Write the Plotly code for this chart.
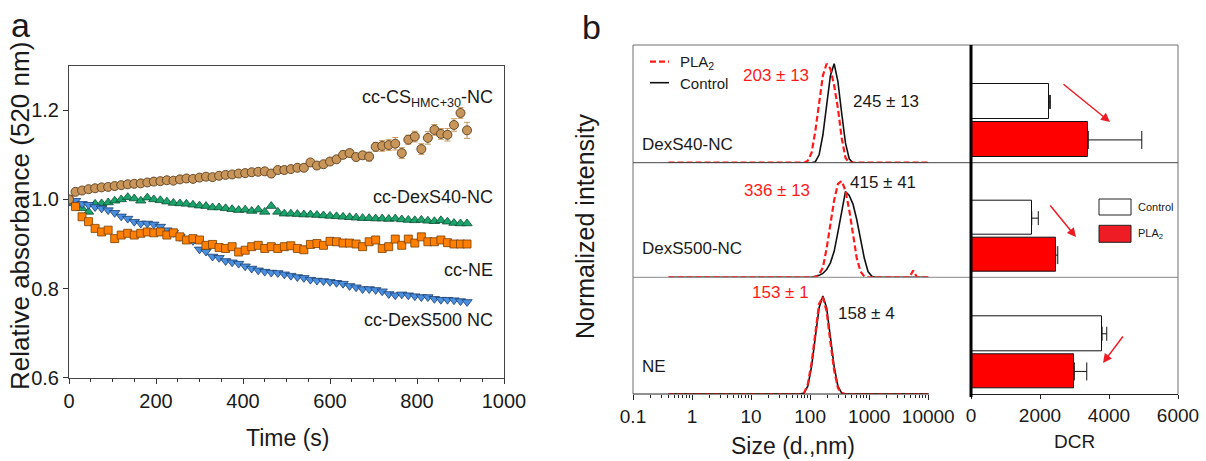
import plotly.graph_objects as go

W, H = 1206, 461
FONT = "Liberation Sans, Arial, sans-serif"

# ---------------- Panel a data ----------------
time_s = [0, 15, 30, 45, 60, 75, 90, 105, 120, 135, 150, 165, 180, 195, 210, 225,
          240, 255, 270, 285, 300, 315, 330, 345, 360, 375, 390, 405, 420, 435,
          450, 465, 480, 495, 510, 525, 540, 555, 570, 585, 600, 615, 630, 645,
          660, 675, 690, 705, 720, 735, 750, 765, 780, 795, 810, 825, 840, 855,
          870, 885, 900, 915]

cs_hmc = [1.000, 1.017, 1.020, 1.023, 1.025, 1.027, 1.028, 1.030, 1.032, 1.034,
          1.035, 1.036, 1.038, 1.040, 1.041, 1.043, 1.042, 1.045, 1.047, 1.046,
          1.049, 1.051, 1.050, 1.053, 1.055, 1.056, 1.058, 1.059, 1.061, 1.062,
          1.063, 1.058, 1.066, 1.066, 1.068, 1.071, 1.071, 1.083, 1.076, 1.079,
          1.085, 1.090, 1.100, 1.104, 1.095, 1.099, 1.096, 1.118, 1.120, 1.122,
          1.125, 1.104, 1.134, 1.141, 1.113, 1.138, 1.156, 1.147, 1.145, 1.167,
          1.194, 1.155]
cs_hmc_err = [0.002, 0.002, 0.002, 0.002, 0.002, 0.002, 0.002, 0.002, 0.002, 0.002,
              0.002, 0.002, 0.002, 0.002, 0.002, 0.002, 0.002, 0.002, 0.002, 0.002,
              0.003, 0.003, 0.003, 0.003, 0.003, 0.003, 0.003, 0.003, 0.003, 0.003,
              0.004, 0.004, 0.004, 0.004, 0.004, 0.004, 0.005, 0.005, 0.005, 0.006,
              0.006, 0.006, 0.008, 0.008, 0.008, 0.008, 0.010, 0.010, 0.012, 0.012,
              0.014, 0.012, 0.010, 0.012, 0.012, 0.014, 0.012, 0.012, 0.014, 0.014,
              0.012, 0.018]

dexs40 = [1.000, 0.991, 0.980, 0.972, 0.990, 0.991, 0.993, 0.997, 1.000, 1.005,
          1.002, 0.997, 1.004, 1.000, 0.998, 0.995, 0.992, 0.991, 0.990, 0.988,
          0.986, 0.985, 0.982, 0.982, 0.980, 0.978, 0.976, 0.977, 0.974, 0.977,
          0.972, 0.985, 0.972, 0.968, 0.968, 0.967, 0.966, 0.966, 0.965, 0.964,
          0.963, 0.962, 0.961, 0.960, 0.959, 0.958, 0.958, 0.957, 0.957, 0.956,
          0.957, 0.955, 0.954, 0.953, 0.954, 0.952, 0.951, 0.953, 0.950, 0.947,
          0.946, 0.946]

ne = [1.000, 0.984, 0.961, 0.950, 0.935, 0.927, 0.931, 0.912, 0.920, 0.924,
      0.920, 0.924, 0.927, 0.925, 0.927, 0.920, 0.925, 0.916, 0.909, 0.912,
      0.909, 0.897, 0.899, 0.892, 0.890, 0.894, 0.882, 0.886, 0.894, 0.897,
      0.890, 0.894, 0.890, 0.894, 0.896, 0.890, 0.887, 0.899, 0.901, 0.897,
      0.906, 0.905, 0.902, 0.902, 0.900, 0.894, 0.905, 0.909, 0.890, 0.894,
      0.911, 0.897, 0.911, 0.902, 0.916, 0.905, 0.905, 0.909, 0.903, 0.900,
      0.900, 0.900]

dexs500 = [0.995, 0.997, 0.990, 0.988, 0.983, 0.980, 0.976, 0.970, 0.962, 0.957,
           0.950, 0.946, 0.946, 0.944, 0.939, 0.931, 0.925, 0.916, 0.910, 0.907,
           0.888, 0.883, 0.872, 0.869, 0.862, 0.859, 0.856, 0.850, 0.845, 0.841,
           0.838, 0.836, 0.835, 0.832, 0.829, 0.826, 0.824, 0.820, 0.818, 0.817,
           0.815, 0.813, 0.811, 0.806, 0.803, 0.799, 0.799, 0.797, 0.794, 0.788,
           0.785, 0.787, 0.785, 0.783, 0.781, 0.781, 0.777, 0.775, 0.775, 0.774,
           0.772, 0.770]

a_xticks = [0, 200, 400, 600, 800, 1000]
a_yticks = [0.6, 0.8, 1.0, 1.2]
a_yticklabels = ["0.6", "0.8", "1.0", "1.2"]

# ---------------- Panel b data ----------------
dls_size = [0.4, 68.06, 78.82, 91.28, 105.7, 122.4, 141.8, 164.2, 190.1, 220.2,
            255.0, 295.3, 342.0, 396.1, 458.7, 531.2, 615.1, 712.4, 825.0, 955.4,
            1106, 1281, 4145, 4801, 5560, 6439, 7456, 10000]

dexs40_control = [0, 0, 0, 0, 0, 0.01, 0.08, 0.28, 0.58, 0.88,
                  1.00, 0.82, 0.50, 0.20, 0.04, 0, 0, 0, 0, 0,
                  0, 0, 0, 0, 0, 0, 0, 0]
dexs40_pla2 = [0, 0, 0, 0.02, 0.10, 0.32, 0.62, 0.88, 1.00, 0.95,
               0.78, 0.55, 0.25, 0.05, 0, 0, 0, 0, 0, 0,
               0, 0, 0, 0, 0, 0, 0, 0]
dexs500_control = [0, 0, 0, 0, 0, 0.01, 0.02, 0.04, 0.08, 0.15,
                   0.27, 0.47, 0.70, 0.89, 0.85, 0.76, 0.60, 0.40, 0.20, 0.06,
                   0.01, 0, 0, 0, 0, 0, 0, 0]
dexs500_pla2 = [0, 0, 0, 0, 0, 0, 0.03, 0.10, 0.30, 0.55,
                0.80, 0.97, 1.00, 0.90, 0.70, 0.45, 0.20, 0.06, 0.01, 0,
                0, 0, 0, 0, 0.07, 0, 0, 0]
ne_control = [0, 0, 0.01, 0.08, 0.28, 0.58, 0.88, 1.00, 0.88, 0.58,
              0.28, 0.08, 0.01, 0, 0, 0, 0, 0, 0, 0,
              0, 0, 0, 0, 0, 0, 0, 0]
ne_pla2 = [0, 0, 0.01, 0.10, 0.32, 0.63, 0.92, 0.99, 0.84, 0.53,
           0.24, 0.06, 0.01, 0, 0, 0, 0, 0, 0, 0,
           0, 0, 0, 0, 0, 0, 0, 0]

dls_ticks = [0.1, 1, 10, 100, 1000, 10000]
dls_ticklabels = ["0.1", "1", "10", "100", "1000", "10000"]

bar_groups = ["PLA2", "Control"]
dcr_control = [2270, 1760, 3800]
dcr_control_err = [30, 190, 135]
dcr_pla2 = [3400, 2455, 2995]
dcr_pla2_err = [1550, 60, 360]
dcr_ticks = [0, 2000, 4000, 6000]

samples = ["DexS40-NC", "DexS500-NC", "NE"]
size_pla2_text = ["203 \u00b1 13", "336 \u00b1 13", "153 \u00b1 1"]
size_ctrl_text = ["245 \u00b1 13", "415 \u00b1 41", "158 \u00b1 4"]

# ---------------- helpers ----------------
def px(x):
    return x / W

def py(y):
    return 1 - y / H

RED = "#ff1a1a"
GREY = "#6e6e6e"
DASH = "6px,3px"

fig = go.Figure()

# ---------------- Panel a traces ----------------
fig.add_trace(go.Scatter(x=time_s, y=dexs40, mode="markers", xaxis="x", yaxis="y",
                         marker=dict(symbol="triangle-up", size=9, color="#1aa36a",
                                     line=dict(color="#0b4f33", width=0.8)),
                         showlegend=False))
fig.add_trace(go.Scatter(x=time_s, y=dexs500, mode="markers", xaxis="x", yaxis="y",
                         marker=dict(symbol="triangle-down", size=9, color="#4a8fe0",
                                     line=dict(color="#1b3d6e", width=0.8)),
                         showlegend=False))
fig.add_trace(go.Scatter(x=time_s, y=ne, mode="markers", xaxis="x", yaxis="y",
                         marker=dict(symbol="square", size=8, color="#ff8000",
                                     line=dict(color="#7a3d00", width=0.8)),
                         showlegend=False))
fig.add_trace(go.Scatter(x=time_s, y=cs_hmc, mode="markers", xaxis="x", yaxis="y",
                         error_y=dict(type="data", array=cs_hmc_err, color="#c8955a",
                                      thickness=1, width=3),
                         marker=dict(symbol="circle", size=9, color="#c8955a",
                                     line=dict(color="#5b3e1e", width=0.9)),
                         showlegend=False))

# ---------------- Panel b DLS traces ----------------
dls_sets = [(dexs40_control, dexs40_pla2), (dexs500_control, dexs500_pla2), (ne_control, ne_pla2)]
for i, (ctrl, pla) in enumerate(dls_sets):
    xa, ya = "x%d" % (i + 2), "y%d" % (i + 2)
    fig.add_trace(go.Scatter(x=dls_size, y=ctrl, mode="lines", xaxis=xa, yaxis=ya,
                             line=dict(color="#111111", width=1.6), showlegend=False))
    fig.add_trace(go.Scatter(x=dls_size, y=pla, mode="lines", xaxis=xa, yaxis=ya,
                             line=dict(color=RED, width=2.2, dash=DASH), showlegend=False))

# ---------------- Panel b DCR bars ----------------
for i in range(3):
    xa, ya = "x%d" % (i + 5), "y%d" % (i + 5)
    fig.add_trace(go.Bar(x=[dcr_control[i]], y=[bar_groups[1]], orientation="h",
                         xaxis=xa, yaxis=ya, width=0.92,
                         marker=dict(color="white", line=dict(color="#111111", width=1)),
                         error_x=dict(type="data", array=[dcr_control_err[i]], arrayminus=[0],
                                      symmetric=False, color="#111111", thickness=1, width=7),
                         showlegend=False))
    fig.add_trace(go.Bar(x=[dcr_pla2[i]], y=[bar_groups[0]], orientation="h",
                         xaxis=xa, yaxis=ya, width=0.92,
                         marker=dict(color="#ff0000", line=dict(color="#111111", width=1)),
                         error_x=dict(type="data", array=[dcr_pla2_err[i]], arrayminus=[0],
                                      symmetric=False, color="#111111", thickness=1, width=9),
                         showlegend=False))

# ---------------- axes ----------------
tickfont = dict(family=FONT, size=20, color="#1a1a1a")
layout = dict(
    width=W, height=H, margin=dict(l=0, r=0, t=0, b=0, autoexpand=False),
    paper_bgcolor="white", plot_bgcolor="rgba(0,0,0,0)",
    font=dict(family=FONT, color="#1a1a1a"),
    bargap=0, barmode="overlay",
    xaxis=dict(domain=[px(69), px(504)], range=[0, 1000], tickvals=a_xticks,
               ticks="outside", ticklen=5, tickcolor="#333", showline=True, mirror=True,
               linecolor="#444", linewidth=1, showgrid=False, zeroline=False,
               minor=dict(dtick=50, ticks="outside", ticklen=3, tickcolor="#333"),
               tickfont=tickfont, anchor="y", automargin=False),
    yaxis=dict(domain=[py(377.7), py(65.7)], range=[0.6, 1.3], tickvals=a_yticks,
               ticktext=a_yticklabels, ticks="outside", ticklen=5, tickcolor="#333",
               showline=True, mirror=True, linecolor="#444", linewidth=1,
               showgrid=False, zeroline=False, tickfont=tickfont, anchor="x",
               automargin=False),
)

sub_tops = [45, 162.7, 277.3]
sub_bots = [162.7, 277.3, 394]
minor_log = [m * 10 ** e for e in range(-1, 4) for m in range(2, 10)]
for i in range(3):
    dom = [py(sub_bots[i]), py(sub_tops[i])]
    bottom = (i == 2)
    layout["xaxis%d" % (i + 2)] = dict(
        domain=[px(633), px(970)], type="log", range=[-1, 4.707], anchor="y%d" % (i + 2),
        showgrid=False, zeroline=False, showline=False, automargin=False,
        tickvals=dls_ticks if bottom else [], ticktext=dls_ticklabels if bottom else [],
        ticks="outside" if bottom else "", ticklen=5, tickcolor="#222",
        showticklabels=bottom,
        minor=dict(tickvals=minor_log if bottom else [], ticks="outside" if bottom else "",
                   ticklen=3, tickcolor="#222"),
        tickfont=dict(family=FONT, size=19, color="#1a1a1a"))
    layout["yaxis%d" % (i + 2)] = dict(
        domain=dom, range=[0, 1.19], anchor="x%d" % (i + 2), visible=False,
        automargin=False)
    layout["xaxis%d" % (i + 5)] = dict(
        domain=[px(971), px(1178)], range=[0, 6000], anchor="y%d" % (i + 5),
        showgrid=False, zeroline=False, showline=bottom, linecolor="#222", linewidth=1,
        tickvals=dcr_ticks if bottom else [], ticks="outside" if bottom else "",
        ticklen=4, tickcolor="#222", showticklabels=bottom, automargin=False,
        tickfont=dict(family=FONT, size=19, color="#1a1a1a"))
    layout["yaxis%d" % (i + 5)] = dict(
        domain=dom, type="category", categoryarray=bar_groups, categoryorder="array",
        range=[-0.6, 2.5], anchor="x%d" % (i + 5), visible=False, automargin=False)

fig.update_layout(**layout)

# ---------------- frames / decorations ----------------
def line(x0, y0, x1, y1, color=GREY, width=1, dash=None):
    d = dict(color=color, width=width)
    if dash:
        d["dash"] = dash
    fig.add_shape(type="line", xref="paper", yref="paper",
                  x0=px(x0), y0=py(y0), x1=px(x1), y1=py(y1), line=d)

line(633, 45, 1178, 45)
line(633, 45, 633, 394)
line(1178, 45, 1178, 394)
line(633, 162.7, 1178, 162.7, color="#444")
line(633, 277.3, 1178, 277.3, color="#888")
line(633, 394, 929, 394, color="#222")
line(971, 45, 971, 397, color="#000", width=3)

# legend of DLS panel
line(650, 61.7, 669, 61.7, color=RED, width=2.2, dash=DASH)
line(650, 82.7, 669, 82.7, color="#111", width=1.6)

# bar legend boxes
fig.add_shape(type="rect", xref="paper", yref="paper", x0=px(1099), x1=px(1131),
              y0=py(215), y1=py(199), line=dict(color="#222", width=1), fillcolor="white")
fig.add_shape(type="rect", xref="paper", yref="paper", x0=px(1099), x1=px(1131),
              y0=py(242.3), y1=py(225.3), line=dict(color="#222", width=1), fillcolor="#ee1c24")

def text(x, y, s, size, color="#1a1a1a", xanchor="left", angle=0):
    fig.add_annotation(xref="paper", yref="paper", x=px(x), y=py(y), text=s,
                       showarrow=False, xanchor=xanchor, yanchor="middle",
                       textangle=angle, font=dict(family=FONT, size=size, color=color))

# panel letters
text(20, 25, "a", 34, xanchor="center")
text(591, 27, "b", 34, xanchor="center")

# axis titles
text(287, 438, "Time (s)", 23, xanchor="center")
text(20, 216, "Relative absorbance (520 nm)", 26, xanchor="center", angle=-90)
text(793, 446, "Size (d.,nm)", 23, xanchor="center")
text(1074, 441, "DCR", 19, xanchor="center")
text(585, 226, "Normalized intensity", 25, xanchor="center", angle=-90)

# panel a series labels (right aligned)
text(495, 98, "cc-CS<sub>HMC+30</sub>-NC", 18, xanchor="right")
text(495, 197, "cc-DexS40-NC", 18, xanchor="right")
text(495, 270, "cc-NE", 18, xanchor="right")
text(495, 320, "cc-DexS500 NC", 18, xanchor="right")

# panel b texts
text(678, 62, "PLA<sub>2</sub>", 15)
text(678, 83, "Control", 15)
sample_y = [144, 249, 366]
for i in range(3):
    text(640, sample_y[i], samples[i], 17)
pla_pos = [(741, 75), (742, 191), (750, 292)]
ctrl_pos = [(851, 101), (848, 182), (836, 313)]
for i in range(3):
    text(pla_pos[i][0], pla_pos[i][1], size_pla2_text[i], 17, color=RED)
    text(ctrl_pos[i][0], ctrl_pos[i][1], size_ctrl_text[i], 17)

text(1136, 207, "Control", 11)
text(1136, 234, "PLA<sub>2</sub>", 11)

# red arrows
arrows = [((1062, 83), (1110, 122)), ((1049, 204), (1076, 237)), ((1124, 335), (1103, 363))]
for (x0, y0), (x1, y1) in arrows:
    fig.add_annotation(xref="paper", yref="paper", x=px(x1), y=py(y1),
                       ax=x0 - x1, ay=y0 - y1, axref="pixel", ayref="pixel",
                       showarrow=True, arrowhead=2, arrowsize=1.2, arrowwidth=1.5,
                       arrowcolor="#ee1c24", text="")

fig.write_html("out.html", config={"displayModeBar": False},
               post_script="document.body.style.margin='0';document.body.style.padding='0';")
